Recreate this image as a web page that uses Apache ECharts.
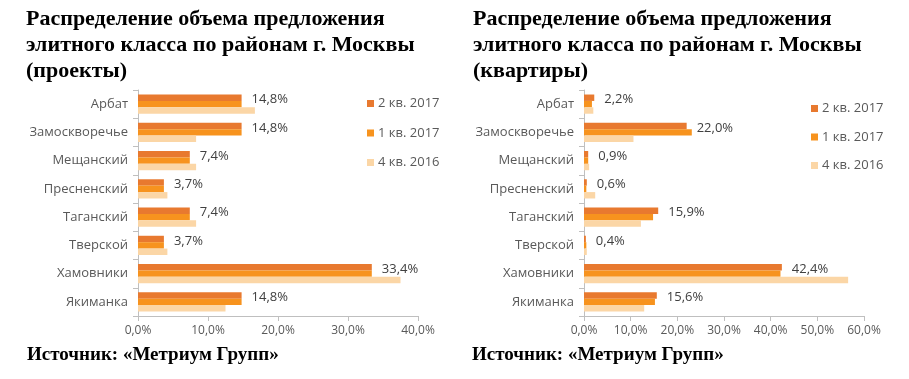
<!DOCTYPE html>
<html>
<head>
<meta charset="utf-8">
<script src="https://cdn.jsdelivr.net/npm/echarts@6/dist/echarts.min.js"></script>
<style>html,body{margin:0;padding:0;background:#fff}#c{width:909px;height:379px}</style>
</head>
<body>
<div id="c"></div>
<script>
const categories = ['Арбат','Замоскворечье','Мещанский','Пресненский','Таганский','Тверской','Хамовники','Якиманка'];
const seriesNames = ['2 кв. 2017','1 кв. 2017','4 кв. 2016'];
// Left chart: projects
const projQ2_2017 = [14.8, 14.8, 7.4, 3.7, 7.4, 3.7, 33.4, 14.8];
const projQ1_2017 = [14.8, 14.8, 7.4, 3.7, 7.4, 3.7, 33.4, 14.8];
const projQ4_2016 = [16.7, 8.3, 8.3, 4.2, 8.3, 4.2, 37.5, 12.5];
// Right chart: apartments
const aptQ2_2017 = [2.2, 22.0, 0.9, 0.6, 15.9, 0.4, 42.4, 15.6];
const aptQ1_2017 = [1.7, 23.1, 0.9, 0.5, 14.8, 0.5, 42.1, 15.2];
const aptQ4_2016 = [2.0, 10.6, 1.1, 2.4, 12.2, 0.6, 56.6, 12.9];
const leftTicksMax = 40, rightTicksMax = 60, tickStep = 10;
const titleLeft = 'Распределение объема предложения\nэлитного класса по районам г. Москвы\n(проекты)';
const titleRight = 'Распределение объема предложения\nэлитного класса по районам г. Москвы\n(квартиры)';
const sourceText = 'Источник: «Метриум Групп»';

const colors = ['#E8792F', '#F7931E', '#FBD6A6'];
const fmt = v => v.toFixed(1).replace('.', ',') + '%';
const sans = '"Open Sans", sans-serif';

function xAxis(idx, max) {
  return {
    type: 'value', gridIndex: idx, min: 0, max: max, interval: tickStep,
    axisLine: {show: true, lineStyle: {color: '#BFBFBF'}},
    axisTick: {show: true, length: 5, lineStyle: {color: '#BFBFBF'}},
    splitLine: {show: false},
    axisLabel: {formatter: v => fmt(v), color: '#595959', fontSize: 12, fontFamily: sans, margin: 9}
  };
}
function yAxis(idx) {
  return {
    type: 'category', gridIndex: idx, data: categories, inverse: true,
    axisLine: {show: true, lineStyle: {color: '#BFBFBF'}},
    axisTick: {show: true, length: 5, lineStyle: {color: '#BFBFBF'}},
    axisLabel: {color: '#595959', fontSize: 13, fontFamily: sans, margin: 10}
  };
}
function bars(idx, data3) {
  return data3.map((d, i) => ({
    name: seriesNames[i], type: 'bar', xAxisIndex: idx, yAxisIndex: idx,
    data: d, barGap: '0%', barCategoryGap: '32%',
    itemStyle: {color: colors[i]},
    label: i === 0 ? {show: true, position: 'right', distance: 10, offset: [0, 2],
      formatter: p => fmt(p.value), color: '#404040', fontSize: 13, fontFamily: sans} : {show: false}
  }));
}

const chart = echarts.init(document.getElementById('c'), null, {renderer: 'canvas'});
const titleStyle = {fontFamily: '"Liberation Serif", serif', fontWeight: 'bold', fontSize: 22, lineHeight: 26, color: '#000'};
const srcStyle = {fontFamily: '"Liberation Serif", serif', fontWeight: 'bold', fontSize: 19, color: '#000'};
chart.setOption({
  animation: false,
  title: [
    {text: titleLeft, left: 26, top: 6, padding: 0, textStyle: titleStyle},
    {text: titleRight, left: 473, top: 6, padding: 0, textStyle: titleStyle},
    {text: sourceText, left: 27, top: 346, padding: 0, textStyle: srcStyle},
    {text: sourceText, left: 472, top: 346, padding: 0, textStyle: srcStyle}
  ],
  legend: [
    {data: seriesNames, orient: 'vertical', left: 362, top: 92, itemWidth: 7, itemHeight: 7, itemGap: 16.5, icon: 'rect',
     textStyle: {color: '#595959', fontSize: 13, fontFamily: sans, padding: [0,0,0,-1]}, selectedMode: false},
    {data: seriesNames, orient: 'vertical', left: 806, top: 97, itemWidth: 7, itemHeight: 7, itemGap: 15.5, icon: 'rect',
     textStyle: {color: '#595959', fontSize: 13, fontFamily: sans, padding: [0,0,0,-1]}, selectedMode: false}
  ],
  grid: [
    {left: 138, top: 90, width: 280, height: 226, containLabel: false},
    {left: 584, top: 90, width: 280, height: 226, containLabel: false}
  ],
  xAxis: [xAxis(0, leftTicksMax), xAxis(1, rightTicksMax)],
  yAxis: [yAxis(0), yAxis(1)],
  series: [].concat(
    bars(0, [projQ2_2017, projQ1_2017, projQ4_2016]),
    bars(1, [aptQ2_2017, aptQ1_2017, aptQ4_2016])
  )
});
</script>
</body>
</html>
